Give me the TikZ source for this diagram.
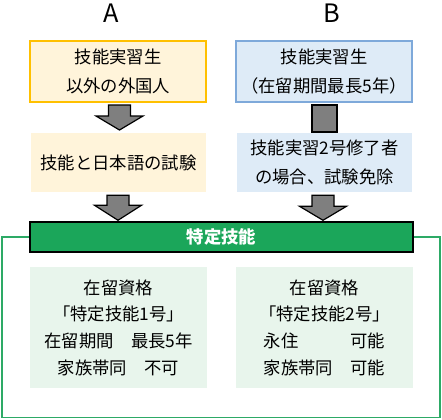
\documentclass[tikz,border=0pt]{standalone}
\usepackage{fontspec}
\setmainfont{Noto Sans CJK JP}
\usepackage{xcolor}
\usetikzlibrary{positioning,calc}

\definecolor{boxorange}{HTML}{FFC000}
\definecolor{fillcream}{HTML}{FFF4DA}
\definecolor{boxblue}{HTML}{7EA9DA}
\definecolor{fillblue}{HTML}{DEEBF7}
\definecolor{bannergreen}{HTML}{1BA65A}
\definecolor{framegreen}{HTML}{2DAA66}
\definecolor{fillgreen}{HTML}{E8F5EC}
\definecolor{arrowgray}{HTML}{7F7F7F}

\begin{document}
\begin{tikzpicture}[
        x=0.75pt, y=-0.75pt,
        every node/.style={font=\fontsize{13pt}{21.75pt}\selectfont, align=center, inner sep=0pt},
        heading/.style={font=\fontsize{19pt}{19pt}\selectfont},
        topbox/.style={rectangle, minimum width=132pt, minimum height=45.75pt},
        midbox/.style={rectangle, minimum width=131.25pt, minimum height=44.25pt},
        statusbox/.style={rectangle, fill=fillgreen, minimum width=132.75pt, minimum height=90.75pt,
            font=\fontsize{13pt}{20pt}\selectfont},
        arrowfill/.style={draw=black, fill=arrowgray, line width=0.9pt, line join=miter},
        pics/downarrow/.style={code={
            \draw[arrowfill] (-11,0) -- (11,0) -- (11,#1) -- (23.5,#1) -- (0,25) -- (-23.5,#1) -- (-11,#1) -- cycle;
        }}
    ]
        \useasboundingbox (0,0) rectangle (442,419);

        % headings
        \node[heading] (headA) at (111.5,13) {A};
        \node[heading] (headB) at (332,13) {B};

        % path A
        \node[topbox, draw=boxorange, fill=fillcream, line width=1.5pt] (a1) at (118,71.5) {技能実習生\\以外の外国人};
        \node[midbox, fill=fillcream] (a2) at (118.5,162.5) {技能と日本語の試験};

        % path B
        \node[topbox, draw=boxblue, fill=fillblue, line width=1pt] (b1) at (324,71.5) {技能実習生\\（在留期間最長5年）};
        \node[midbox, fill=fillblue] (b2) at (324.5,162.5) {技能実習2号修了者\\の場合、試験免除};

        % outer frame and banner
        \draw[framegreen, line width=1.2pt] (2,237) rectangle (440,417.5);
        \node[rectangle, draw=black, fill=bannergreen, line width=1pt, minimum width=287.25pt, minimum height=22.5pt,
            text=white, font=\fontsize{13pt}{13pt}\selectfont\bfseries] (banner) at (221.5,237) {特定技能};

        % status boxes
        \node[statusbox] (c1) at (118.5,327.5) {在留資格\\「特定技能1号」\\在留期間　最長5年\\家族帯同　不可};
        \node[statusbox] (c2) at (324.5,327.5) {在留資格\\「特定技能2号」\\永住　　　可能\\家族帯同　可能};

        % arrows
        \pic at ($(a1.south)+(1.5,2)$) {downarrow=11};
        \draw[arrowfill, line width=1.5pt] ($(b1.south)+(-12,2)$) rectangle ($(b2.north)+(12,-1)$);
        \pic at ($(a2.south)+(-0.5,3)$) {downarrow=10};
        \pic at ($(b2.south)+(-1.5,3)$) {downarrow=11};
    \end{tikzpicture}
\end{document}
